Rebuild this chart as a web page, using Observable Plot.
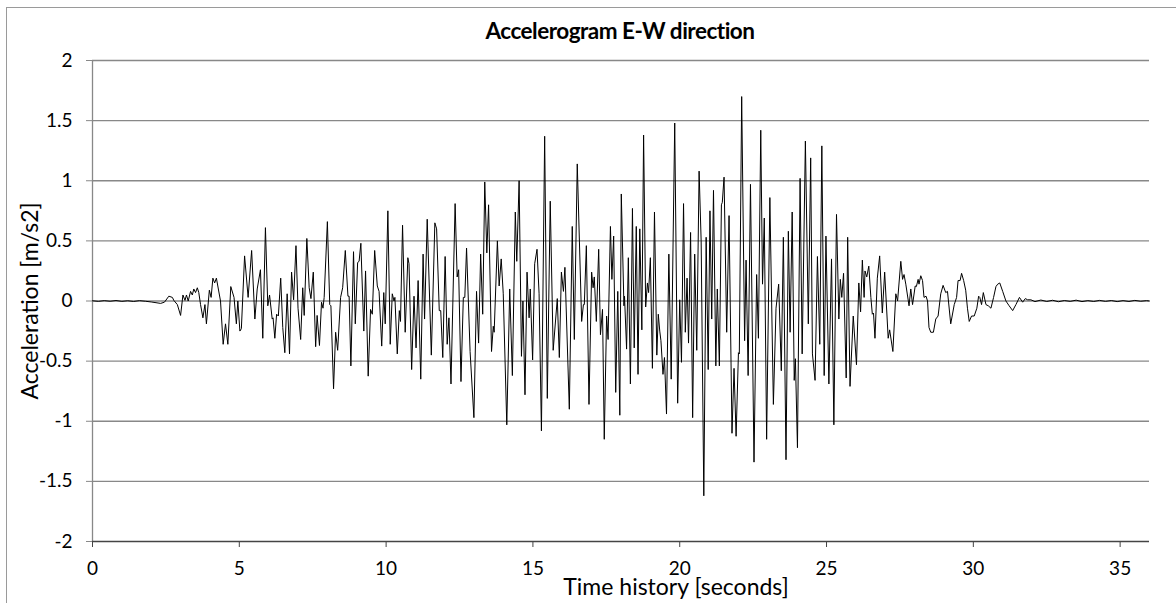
<!DOCTYPE html>
<html>
<head>
<meta charset="utf-8">
<script src="https://cdn.jsdelivr.net/npm/d3@7"></script>
<script src="https://cdn.jsdelivr.net/npm/@observablehq/plot@0.6"></script>
<style>
  html, body { margin: 0; padding: 0; background: #fff; }
  #wrap { position: relative; width: 1176px; height: 603px; overflow: hidden; font-family: Lato, "Open Sans", sans-serif; }
  #frame { position: absolute; left: 6px; top: 7px; width: 1200px; height: 700px; border-left: 1.5px solid #9a9a9a; border-top: 1.5px solid #9a9a9a; }
  #title { position: absolute; left: 0; top: 17px; width: 1240px; text-align: center; font-weight: 700; font-size: 22.5px; letter-spacing: -0.5px; color: #000; }
  #chart { position: absolute; left: 0; top: 0; }
</style>
</head>
<body>
<div id="wrap">
  <div id="frame"></div>
  <div id="chart"></div>
  <div id="title">Accelerogram E-W direction</div>
</div>
<script>
// Time (s) of each read vertex
const time = [
  0, 0.2, 0.4, 0.6, 0.8, 1.0, 1.2, 1.4, 1.6, 1.8, 2.0,
  2.32, 2.45, 2.60, 2.72, 2.77, 2.89, 3.00, 3.08, 3.15, 3.20, 3.26, 3.34, 3.40, 3.45, 3.51, 3.57, 3.62, 3.68, 3.76, 3.83, 3.88, 3.98, 4.04, 4.10, 4.16, 4.22, 4.36, 4.45, 4.53, 4.61, 4.71, 4.82, 4.90, 4.95, 5.02, 5.07, 5.18, 5.30, 5.42, 5.53, 5.61, 5.72, 5.80, 5.89,
  5.97, 6.03, 6.12, 6.15, 6.21, 6.27, 6.33, 6.41, 6.48, 6.55, 6.63, 6.71, 6.78, 6.85, 6.93, 7.00, 7.09, 7.16, 7.21, 7.30, 7.38, 7.44, 7.52, 7.60, 7.65, 7.73, 7.80, 7.85, 7.89, 8.00, 8.08, 8.12, 8.21, 8.28, 8.35, 8.45, 8.52, 8.61, 8.70, 8.74, 8.80, 8.89, 8.95, 9.03, 9.08, 9.14, 9.24, 9.30, 9.39,
  9.47, 9.53, 9.61, 9.70, 9.76, 9.85, 9.92, 9.97, 10.06, 10.14, 10.21, 10.27, 10.30, 10.38, 10.45, 10.49, 10.56, 10.65, 10.74, 10.78, 10.87, 10.95, 11.02, 11.09, 11.18, 11.26, 11.31, 11.40, 11.54, 11.66, 11.72, 11.81, 11.86, 11.93, 12.01, 12.08, 12.14, 12.21, 12.35, 12.42, 12.47, 12.55,
  12.63, 12.68, 12.74, 12.86, 12.99, 13.08, 13.15, 13.22, 13.29, 13.36, 13.43, 13.49, 13.59, 13.65, 13.68, 13.79, 13.85, 13.92, 13.99, 14.11, 14.21, 14.30, 14.40, 14.45, 14.53, 14.61, 14.66, 14.73, 14.80, 14.87, 14.91, 14.99, 15.06, 15.14, 15.21, 15.29, 15.40, 15.49, 15.59, 15.69, 15.83, 15.90, 15.97, 16.04, 16.09, 16.24,
  16.34, 16.41, 16.51, 16.66, 16.72, 16.75, 16.82, 16.91, 17.00, 17.05, 17.09, 17.16, 17.24, 17.30, 17.37, 17.43, 17.51, 17.56, 17.64, 17.69, 17.75, 17.82, 17.89, 17.96, 18.01, 18.10, 18.12, 18.19, 18.25, 18.32, 18.39, 18.45, 18.52, 18.58, 18.64, 18.71, 18.77, 18.84, 18.90, 18.94, 19.00, 19.07, 19.14, 19.22, 19.27, 19.32, 19.36, 19.43, 19.48, 19.55, 19.63,
  19.71, 19.83, 19.93, 20.00, 20.06, 20.13, 20.19, 20.25, 20.30, 20.37, 20.44, 20.51, 20.58, 20.66, 20.73, 20.82, 20.90, 20.97, 21.03, 21.09, 21.15, 21.23, 21.28, 21.35, 21.42, 21.45, 21.51, 21.60, 21.68, 21.78, 21.85, 21.92, 22.00, 22.03, 22.11, 22.21, 22.26, 22.33, 22.41, 22.53, 22.62, 22.68, 22.76,
  22.82, 22.88, 22.96, 23.07, 23.19, 23.28, 23.37, 23.46, 23.53, 23.62, 23.70, 23.76, 23.83, 23.90, 23.94, 24.01, 24.10, 24.17, 24.28, 24.38, 24.46, 24.52, 24.61, 24.69, 24.77, 24.84, 24.92, 24.98, 25.08, 25.17, 25.25, 25.34, 25.42, 25.47, 25.52, 25.58, 25.67, 25.72, 25.80, 25.91, 26.02, 26.10, 26.16, 26.22, 26.28, 26.31, 26.37, 26.44,
  26.51, 26.56, 26.60, 26.65, 26.73, 26.81, 26.90, 26.98, 27.10, 27.15, 27.26, 27.36, 27.42, 27.53, 27.59, 27.64, 27.70, 27.81, 27.87, 27.93, 28.02, 28.06, 28.12, 28.15, 28.21, 28.27, 28.32, 28.39, 28.44, 28.49, 28.55, 28.64, 28.72, 28.80, 28.89, 28.97, 29.06, 29.12, 29.23, 29.35, 29.43, 29.48, 29.55, 29.60, 29.67, 29.74, 29.80, 29.86, 29.94, 30.03, 30.12, 30.18, 30.22, 30.28, 30.34, 30.43, 30.51, 30.60, 30.69, 30.77, 30.83, 30.90, 31.00, 31.11, 31.22, 31.34, 31.45, 31.57, 31.68, 31.77, 31.85, 31.96,
  32.1, 32.3, 32.5, 32.7, 32.9, 33.1, 33.3, 33.5, 33.7, 33.9, 34.1, 34.3, 34.5, 34.7, 34.9, 35.1, 35.3, 35.5, 35.7, 35.9, 36.0
];
// Acceleration (m/s2) at each vertex
const accel = [
  0.002, -0.003, 0.003, -0.002, 0.004, -0.003, 0.002, -0.004, 0.003, -0.002, -0.008,
  -0.02, -0.01, 0.04, 0.03, 0.005, -0.03, -0.12, 0.05, 0.005, 0.05, 0.0, 0.08, 0.05, 0.10, 0.07, 0.11, 0.07, -0.03, -0.14, -0.03, -0.19, 0.09, 0.03, 0.19, 0.15, 0.19, 0.0, -0.36, -0.19, -0.36, 0.12, 0.03, -0.19, 0.0, -0.25, -0.23, 0.375, 0.03, 0.42, -0.15, 0.10, 0.26, -0.31, 0.61,
  -0.04, 0.05, -0.15, -0.14, -0.31, -0.11, -0.125, 0.19, -0.22, -0.43, 0.06, -0.44, 0.24, 0.01, 0.46, -0.06, -0.32, 0.11, -0.12, 0.52, 0.11, 0.02, 0.24, -0.38, -0.12, -0.37, -0.01, -0.06, 0.03, 0.66, -0.03, -0.04, -0.73, -0.26, -0.41, 0.03, 0.11, 0.42, 0.04, 0.04, -0.54, 0.41, -0.19, 0.32, 0.33, 0.48, -0.25, 0.25, -0.625,
  -0.07, -0.11, 0.42, 0.125, 0.08, -0.375, 0.07, -0.19, 0.75, -0.36, 0.06, 0.0, 0.03, -0.44, -0.08, -0.17, 0.63, -0.26, 0.36, 0.31, -0.57, 0.04, -0.39, 0.17, -0.65, 0.39, -0.15, 0.68, -0.45, 0.65, 0.60, -0.08, -0.08, -0.47, 0.37, -0.36, -0.14, -0.69, 0.81, 0.20, 0.26, -0.67,
  0.03, 0.03, 0.44, -0.42, -0.97, 0.08, -0.35, 0.39, -0.11, 0.99, 0.40, 0.80, -0.42, -0.21, -0.26, 0.50, 0.125, 0.35, 0.06, -1.03, 0.10, -0.62, 0.74, 0.33, 1.00, -0.46, 0.0, -0.78, 0.24, -0.14, 0.10, -0.49, 0.31, 0.43, 0.06, -1.08, 1.37, -0.81, 0.83, -0.41, 0.02, -0.47, 0.24, 0.08, 0.28, -0.90,
  0.62, -0.32, 1.14, -0.17, -0.03, -0.03, 0.46, -0.86, 0.24, 0.11, 0.20, -0.17, 0.43, -0.28, -0.07, -1.15, -0.125, -0.32, 0.62, 0.18, 0.54, -0.76, 0.08, -0.95, 0.89, -0.04, 0.04, -0.40, 0.36, -0.69, 0.77, -0.39, 0.62, -0.61, 0.60, -0.24, 1.38, -0.05, 0.15, 0.07, 0.36, -0.56, 0.74, -0.45, -0.11, -0.25, -0.33, -0.61, -0.47, -0.94, 0.39,
  -0.65, 1.48, -0.85, 0.01, -0.51, 0.81, -0.26, 0.19, -0.35, 0.57, -0.97, 0.39, -0.41, 1.08, 0.50, -1.62, 0.53, -0.57, 0.75, -0.15, 0.92, -0.54, 0.10, -0.54, 0.80, 0.82, 1.03, -0.26, 0.71, -1.10, -0.56, -1.125, -0.43, -0.44, 1.70, -0.33, 0.34, -0.62, 0.97, -1.34, 0.22, -0.31, 1.42,
  0.14, 0.69, -1.15, 0.86, -0.86, -0.06, 0.14, -0.58, 0.53, -1.32, 0.58, -0.26, 0.74, -0.66, -0.48, -1.22, 1.02, -0.44, 1.33, -0.19, 1.19, -0.44, -0.66, 0.37, -0.36, 1.29, -0.62, 0.54, -0.69, 0.35, -1.03, 0.72, -0.15, 0.18, 0.03, 0.23, -0.64, 0.53, -0.71, -0.125, -0.53, 0.15, -0.09, 0.34, 0.03, 0.25, 0.20, 0.29,
  0.03, -0.11, -0.10, -0.31, 0.19, 0.375, -0.10, 0.24, -0.31, -0.24, -0.42, 0.06, 0.0, 0.33, 0.18, 0.22, 0.14, -0.04, 0.10, -0.03, 0.125, 0.12, 0.18, 0.14, 0.21, 0.17, 0.03, 0.04, 0.0, -0.22, -0.26, -0.26, -0.15, -0.125, 0.06, 0.13, 0.07, 0.08, -0.19, -0.03, 0.03, 0.17, 0.17, 0.23, 0.17, 0.09, -0.06, -0.17, -0.125, -0.125, -0.06, 0.04, 0.03, -0.03, 0.07, -0.03, -0.04, -0.06, 0.03, 0.12, 0.14, 0.15, 0.08, 0.0, -0.04, -0.08, -0.03, 0.03, -0.01, 0.02, 0.01, 0.01,
  -0.005, 0.008, -0.004, 0.006, -0.006, 0.004, -0.003, 0.007, -0.005, 0.003, -0.004, 0.005, -0.003, 0.004, -0.005, 0.003, -0.004, 0.005, -0.002, 0.003, 0.0
];
const xTicks = [0, 5, 10, 15, 20, 25, 30, 35];
const yTicks = [-2, -1.5, -1, -0.5, 0, 0.5, 1, 1.5, 2];
const xLabel = "Time history [seconds]";
const yLabel = "Acceleration [m/s2]";

const data = time.map((t, i) => ({t, a: accel[i]}));

const chart = Plot.plot({
  width: 1176,
  height: 603,
  marginLeft: 92,
  marginRight: 27,
  marginTop: 60,
  marginBottom: 62,
  style: {fontFamily: "Lato, 'Open Sans', sans-serif", background: "transparent", overflow: "visible"},
  x: {domain: [0, 36]},
  y: {domain: [-2, 2]},
  marks: [
    Plot.ruleY(yTicks.filter(d => d !== -2), {stroke: "#888", strokeWidth: 1.3}),
    Plot.ruleX([0], {stroke: "#888", strokeWidth: 1.3}),
    Plot.axisY(yTicks, {tickSize: 6, tickPadding: 14, fontSize: 19, stroke: "#888", color: "#000", tickFormat: d => String(d), label: null}),
    Plot.axisX(xTicks, {tickSize: 6, tickPadding: 14, fontSize: 19, stroke: "#444", color: "#000", tickFormat: d => String(d), label: null}),
    Plot.ruleY([-2], {stroke: "#444", strokeWidth: 1.3}),
    Plot.line(data, {x: "t", y: "a", stroke: "#000", strokeWidth: 1}),
    Plot.text([xLabel], {frameAnchor: "bottom", dx: 55, dy: 53, text: d => d, fontSize: 23, fill: "#000"}),
    Plot.text([yLabel], {frameAnchor: "left", textAnchor: "middle", dx: -62, rotate: -90, text: d => d, fontSize: 23, fill: "#000"})
  ]
});
document.getElementById("chart").appendChild(chart);
</script>
</body>
</html>
